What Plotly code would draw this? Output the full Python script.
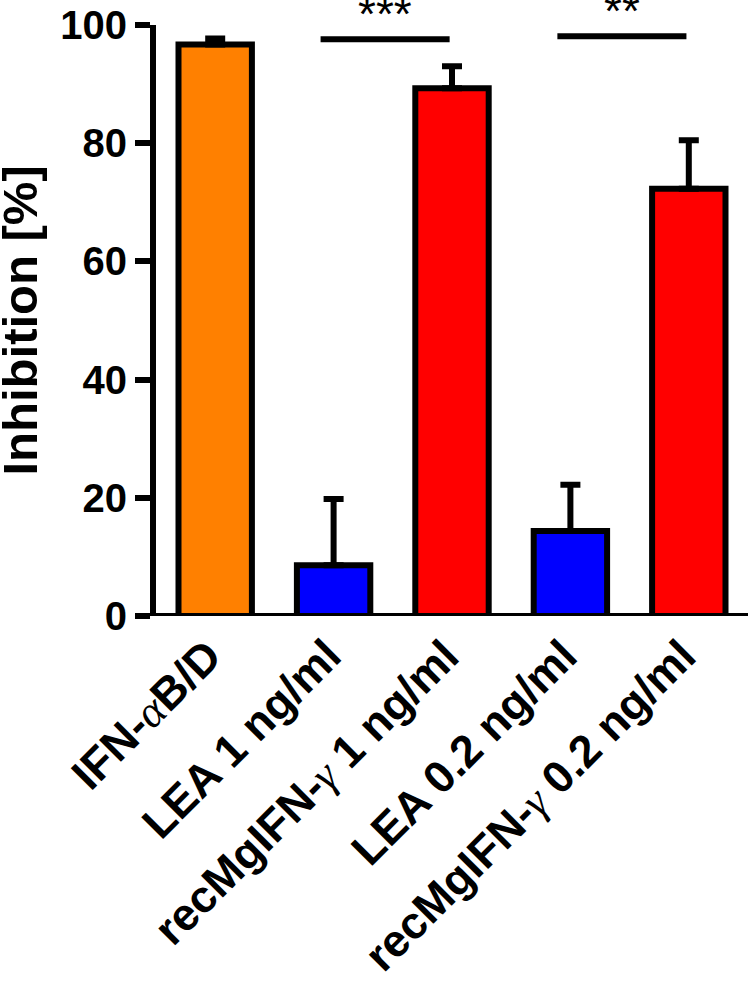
import plotly.graph_objects as go

SERIF_A = "<span style=\"font-family:'Liberation Serif';font-weight:normal\"><i>α</i></span>"
SERIF_G = "<span style=\"font-family:'Liberation Serif';font-weight:normal\"><i>γ</i></span>"

categories = [
    "IFN-" + SERIF_A + "B/D",
    "LEA 1 ng/ml",
    "recMgIFN-" + SERIF_G + " 1 ng/ml",
    "LEA 0.2 ng/ml",
    "recMgIFN-" + SERIF_G + " 0.2 ng/ml",
]
means = [96.7, 8.6, 89.3, 14.4, 72.3]
errors = [1.0, 11.2, 3.7, 7.8, 8.2]
bar_colors = ["#FF8000", "#0000FF", "#FF0000", "#0000FF", "#FF0000"]

sig_pairs = [(1, 2), (3, 4)]
sig_heights = [97.6, 98.1]
sig_labels = ["***", "**"]

y_ticks = [0, 20, 40, 60, 80, 100]
y_title = "Inhibition [%]"

xpos = list(range(len(categories)))

L_MARGIN, PLOT_W = 156, 592

fig = go.Figure()
fig.add_trace(go.Bar(
    x=xpos, y=means, width=0.62,
    marker=dict(color=bar_colors, line=dict(color="black", width=6)),
    error_y=dict(type="data", symmetric=False, array=errors,
                 arrayminus=[0] * len(errors), color="black",
                 thickness=6, width=10),
    showlegend=False, hoverinfo="skip",
))

shapes = []
annotations = []
for (a, b), h, lab in zip(sig_pairs, sig_heights, sig_labels):
    x0 = a - 0.11
    x1 = b - 0.02
    shapes.append(dict(type="line", xref="x", yref="y", x0=x0, x1=x1, y0=h, y1=h,
                       line=dict(color="black", width=6)))
    annotations.append(dict(x=(x0 + x1) / 2, y=h, xref="x", yref="y", text=lab,
                            showarrow=False, yanchor="bottom", yshift=-3,
                            font=dict(family="Liberation Sans", size=46, color="black")))

# category labels, rotated
for i, c in zip(xpos, categories):
    annotations.append(dict(x=i, y=0, xref="x", yref="y", text="<b>%s</b>" % c,
                            showarrow=False, textangle=-45,
                            xanchor="right", yanchor="top", xshift=19, yshift=-11,
                            font=dict(family="Liberation Sans", size=45, color="black")))

# y axis title
annotations.append(dict(x=-L_MARGIN / PLOT_W, y=0.5, xref="paper", yref="paper",
                        text="<b>%s</b>" % y_title, showarrow=False, textangle=-90,
                        xanchor="left", yanchor="middle", xshift=-10,
                        font=dict(family="Liberation Sans", size=49, color="black")))

# baseline (x axis line)
shapes.append(dict(type="line", xref="paper", yref="y", x0=0, x1=1, y0=0, y1=0,
                   line=dict(color="black", width=6)))

fig.update_layout(
    width=750, height=984,
    margin=dict(l=L_MARGIN, r=750 - L_MARGIN - PLOT_W, t=25, b=368, autoexpand=False),
    paper_bgcolor="white", plot_bgcolor="white",
    font=dict(family="Liberation Sans", color="black"),
    shapes=shapes, annotations=annotations,
)
fig.update_xaxes(
    range=[-0.5, 4.5], tickvals=xpos, showticklabels=False,
    showline=False, ticks="", showgrid=False, zeroline=False, automargin=False,
)
fig.update_yaxes(
    range=[0, 100], tickvals=y_ticks, ticktext=["<b>%d</b>" % v for v in y_ticks],
    showline=True, linecolor="black", linewidth=6,
    ticks="outside", ticklen=15, tickwidth=6, tickcolor="black",
    showgrid=False, zeroline=False, automargin=False,
    tickfont=dict(family="Liberation Sans", size=40, color="black"),
)

fig.write_html("out.html", config={"displayModeBar": False},
               post_script="document.body.style.margin='0px';document.body.style.padding='0px';")
